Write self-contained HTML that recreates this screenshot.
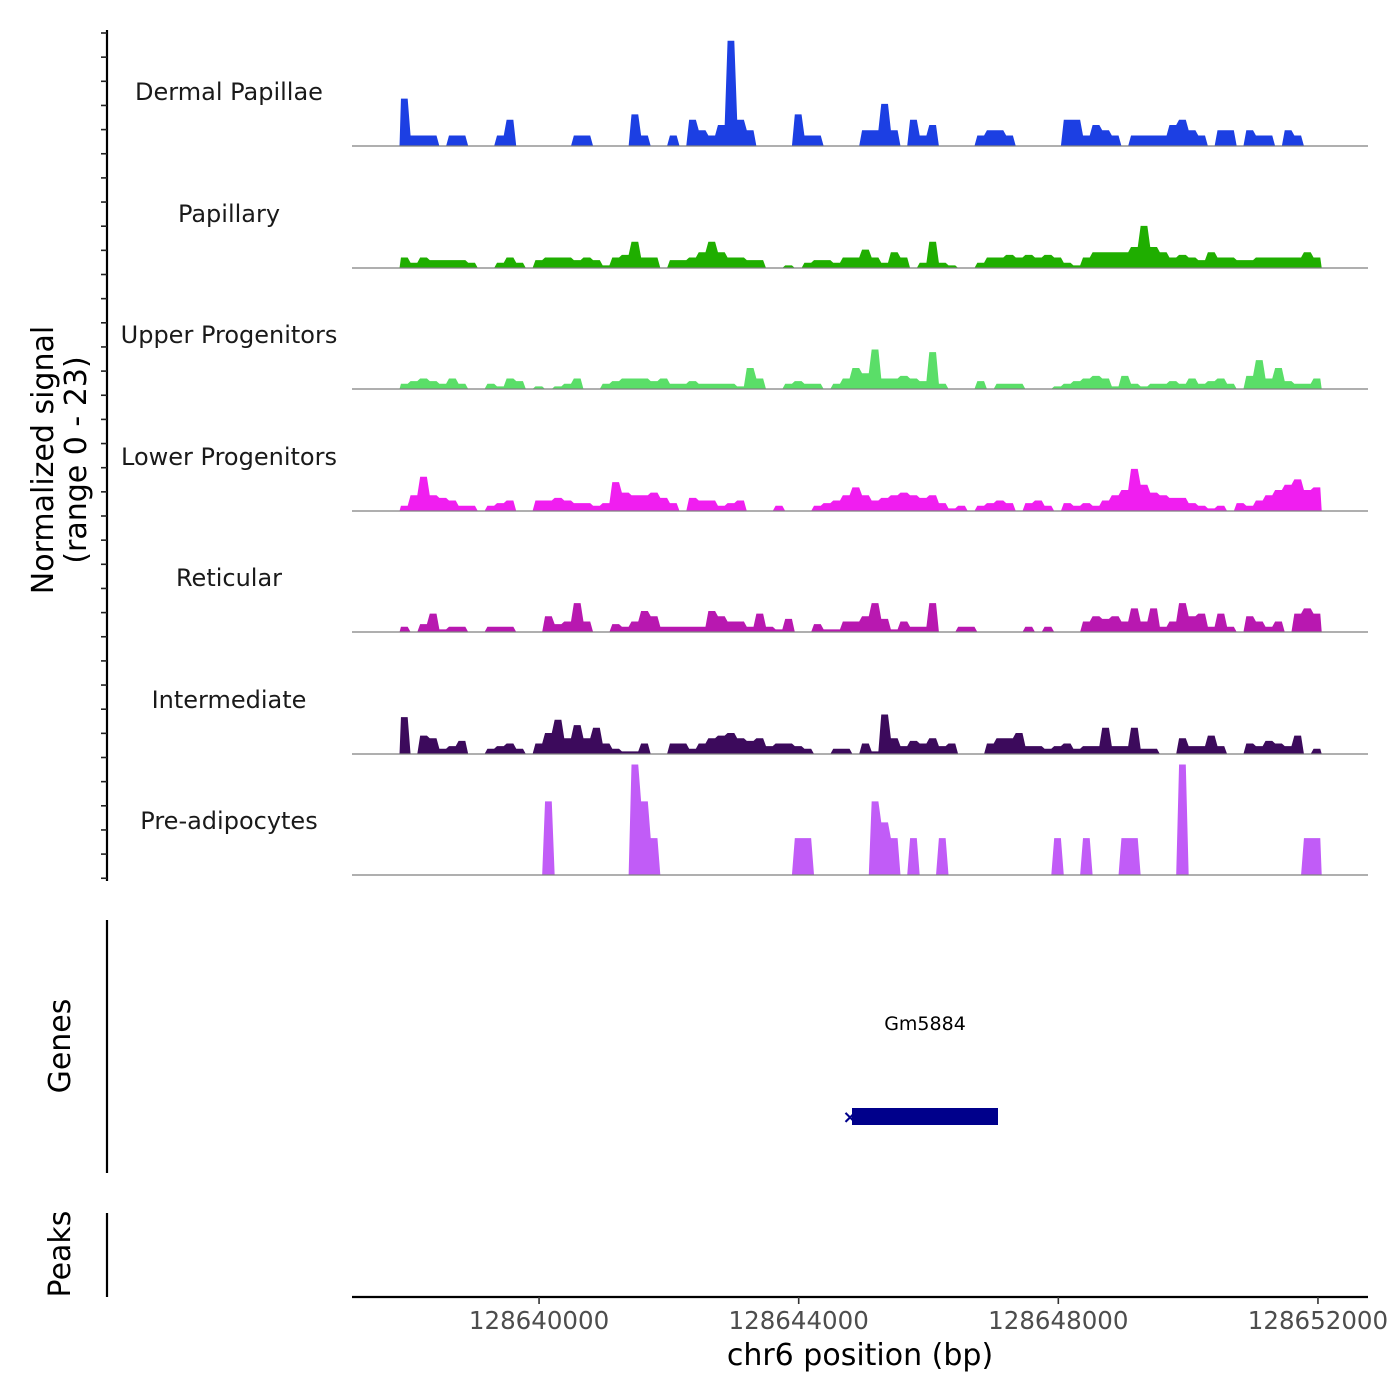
<!DOCTYPE html>
<html><head><meta charset="utf-8"><style>
html,body{margin:0;padding:0;background:#fff;}
svg{display:block;font-family:"DejaVu Sans","Liberation Sans",sans-serif;}
</style></head><body>
<svg id="chart" width="1400" height="1400" viewBox="0 0 1400 1400"></svg>
<script>
const trackNames = ["Dermal Papillae","Papillary","Upper Progenitors","Lower Progenitors","Reticular","Intermediate","Pre-adipocytes"];
const trackColors = ["#1c3fe3","#1fae00","#5ade68","#f01ef0","#b818b0","#3c0a5c","#c15cf7"];
const binStart = 128637850;
const binSize = 148;
const dermalPapillae = [9,2,2,2,0,2,2,0,0,0,2,5,0,0,0,0,0,0,2,2,0,0,0,0,6,2,0,0,2,0,5,3,2,4,20,5,3,0,0,0,0,6,2,2,0,0,0,0,3,3,8,3,0,5,2,4,0,0,0,0,2,3,3,2,0,0,0,0,0,5,5,2,4,3,2,0,2,2,2,2,4,5,3,2,0,3,3,0,3,2,2,0,3,2,0,0];
const papillary = [2,1,2,1.5,1.5,1.5,1.5,1,0,0,1,2,1,0,1.5,2,2,2,1.5,2,1.5,0.5,2,2.5,5,2,2,0,1.5,1.5,2,3,5,3,2,2,1.5,1.5,0,0,0.5,0,1,1.5,1.5,1,2,2,3.5,2,1,3,2,0,1,5,1,0.5,0,0,1,2,2,2.5,2,2.5,2,2.5,2,1,0.5,2,3,3,3,3,4,8,4,3,2,2.5,2,1.5,3,2,2,1.5,1.5,2,2,2,2,2,3,2];
const upperProgenitors = [1,1.5,2,1.5,1,2,1,0,0,1,0.5,2,1.5,0,0.5,0,0.5,1,2,0,0,1,1.5,2,2,2,1.5,2,1,1,1.5,1,1,1,1,0.5,4,2,0,0,1,1.5,1,1,0,1,2,4,3,7.5,2,2,2.5,2,1.5,7,1,0,0,0,1.5,0,1,1,1,0,0,0,0.5,1,1.5,2,2.5,2,0.5,2.5,1,0.5,1,1,1.5,1,2,1,1.5,2,1,0,2.5,5.5,2,4,1.5,1,1,2];
const lowerProgenitors = [1,3,6.5,3,2.5,2,1,1,0,1,1.5,2,0,0,2,2,2.5,2,1.5,1.5,1,1.5,5.5,3.5,3,3,3.5,2.5,1.5,0,2.5,2,2,1,1.5,2,0,0,0,1,0,0,0,1,1.5,2,3,4.5,3,2,2.5,3,3.5,3,2.5,3,1.5,0.5,1,0,1,1.5,2,1.5,0,1.5,2,1,0,1.5,1,1.5,1,2,3,4,8,5,3.5,3,2.5,2.5,1.5,1,0.5,1,0,1.5,1,2,3,4,5,6,4,4.5];
const reticular = [1,0,1.5,3.5,0.5,1,1,0,0,1,1,1,0,0,0,3,1.5,2,5.5,2,0,0,1.5,1,2,4,3,1,1,1,1,1,4,3,2,2,1,3.5,1,0.5,2.5,0,0,1.5,0.5,0.5,2,2,3,5.5,2.5,0.5,2,1,1,5.5,0,0,1,1,0,0,0,0,0,1,0,1,0,0,0,2,3,2.5,3,2,4.5,2,4.5,1,2,5.5,3,3.5,1,3.5,1,0,3,2,1,2,0,3.5,4.5,3.5];
const intermediate = [7,0,3.5,3,1,1.5,2.5,0,0,1,1.5,2,1,0,2,4,6.5,3,5.5,3,5,2,1,0.5,0.5,2,0,0,2,2,1,2,3,3.5,4,3,2.5,3,1.5,2,2,1.5,1,0,0,1,1,0,2,0.5,7.5,3,1.5,2.5,2,3,1.5,2,0,0,0,2,3,3,4,1.5,1.5,1,1.5,2,1,1.5,1.5,5,1.5,1.5,5,1,1,0,0,3,1.5,1.5,3.5,1.5,0,0,2,1.5,2.5,2,1.5,3.5,0,1];
const preAdipocytes = [0,0,0,0,0,0,0,0,0,0,0,0,0,0,0,14,0,0,0,0,0,0,0,0,21,14,7,0,0,0,0,0,0,0,0,0,0,0,0,0,0,7,7,0,0,0,0,0,0,14,10,7,0,7,0,0,7,0,0,0,0,0,0,0,0,0,0,0,7,0,0,7,0,0,0,7,7,0,0,0,0,21,0,0,0,0,0,0,0,0,0,0,0,0,7,7];
const xTicks = [128640000,128644000,128648000,128652000];
const yMax = 23;

const svg = document.getElementById('chart');
const NS = 'http://www.w3.org/2000/svg';
function mk(tag, attrs, parent){const e=document.createElementNS(NS,tag);for(const k in attrs)e.setAttribute(k,attrs[k]);(parent||svg).appendChild(e);return e;}
const X0 = 352, X1 = 1368, G0 = 128637118, G1 = 128652771;
function xScale(g){return X0 + (g-G0)/(G1-G0)*(X1-X0);}
const baselines = [146,268,389,511,632,754,875];
const trackH = 121;
function yScale(v,b){return b - v/yMax*trackH;}
const allData = [dermalPapillae,papillary,upperProgenitors,lowerProgenitors,reticular,intermediate,preAdipocytes];

const ax = mk('line',{x1:107,y1:30,x2:107,y2:881,stroke:'#000','stroke-width':2.2});


for(let i=0;i<36;i++){
  const y=33+i*24.15;
  const t=mk('line',{x1:101,y1:y,x2:107,y2:y,stroke:'#222','stroke-width':1.6});
  
  
}
const yt = mk('text',{transform:'translate(53,460) rotate(-90)','text-anchor':'middle','font-size':30,fill:'#000'});
yt.textContent='Normalized signal';


const yt2 = mk('text',{transform:'translate(86,460) rotate(-90)','text-anchor':'middle','font-size':30,fill:'#000'});
yt2.textContent='(range 0 - 23)';



allData.forEach((arr,ti)=>{
  const b=baselines[ti];
  const g=mk('g',{});
  
  
  let d='M'+xScale(binStart)+','+b;
  arr.forEach((v,i)=>{
    const xa=xScale(binStart+i*binSize), xb=xScale(binStart+(i+1)*binSize), y=yScale(v,b);
    const inset = (xb-xa)*0.15;
    d+=' L'+(xa+inset)+','+y+' L'+(xb-inset)+','+y;
  });
  d+=' L'+xScale(binStart+arr.length*binSize)+','+b+' Z';
  const p=mk('path',{d:d,fill:trackColors[ti],stroke:'none'},g);
  
  
  const bl=mk('line',{x1:X0,y1:b,x2:X1,y2:b,stroke:'#7f7f7f','stroke-width':1.2},g);
  
  
  const lb=mk('text',{x:229,y:b-46,'text-anchor':'middle','font-size':24,fill:'#1a1a1a'},g);
  lb.textContent=trackNames[ti];
  
  
});

const ga=mk('line',{x1:107,y1:920,x2:107,y2:1173,stroke:'#000','stroke-width':2.2});


const gt=mk('text',{transform:'translate(70,1046) rotate(-90)','text-anchor':'middle','font-size':30,fill:'#000'});
gt.textContent='Genes';


const gb=mk('rect',{x:852,y:1108,width:146,height:17,fill:'#00008b'});


const gx=mk('text',{x:850,y:1123,'text-anchor':'middle','font-size':18,'font-weight':'bold',fill:'#00008b'});
gx.textContent='×';


const gl=mk('text',{x:925,y:1030,'text-anchor':'middle','font-size':19,fill:'#000'});
gl.textContent='Gm5884';



const pa=mk('line',{x1:107,y1:1213,x2:107,y2:1297,stroke:'#000','stroke-width':2.2});


const pt=mk('text',{transform:'translate(70,1254) rotate(-90)','text-anchor':'middle','font-size':30,fill:'#000'});
pt.textContent='Peaks';



const xa=mk('line',{x1:X0,y1:1297,x2:X1,y2:1297,stroke:'#000','stroke-width':2.2});


xTicks.forEach(v=>{
  const x=xScale(v);
  const t=mk('line',{x1:x,y1:1297,x2:x,y2:1304,stroke:'#333','stroke-width':1.6});
  
  
  const l=mk('text',{x:x,y:1329,'text-anchor':'middle','font-size':24.5,fill:'#4d4d4d'});
  l.textContent=String(v);
  
  
});
const xt=mk('text',{x:860,y:1365,'text-anchor':'middle','font-size':30,fill:'#000'});
xt.textContent='chr6 position (bp)';


</script>
</body></html>
